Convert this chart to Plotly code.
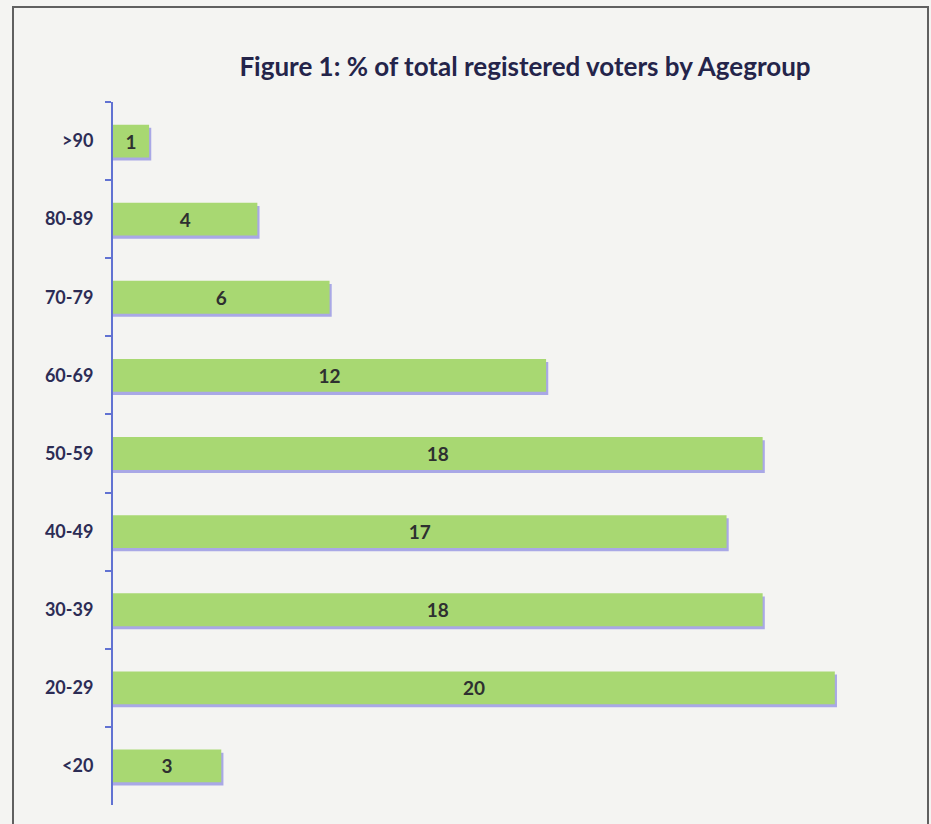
import plotly.graph_objects as go

age_groups = [">90", "80-89", "70-79", "60-69", "50-59", "40-49", "30-39", "20-29", "<20"]
pct_voters = [1, 4, 6, 12, 18, 17, 18, 20, 3]
title_text = "Figure 1: % of total registered voters by Agegroup"

BAR_W = 0.42
SHADOW = 0.04

fig = go.Figure()
# soft bluish drop shadow below/right of each bar
fig.add_trace(go.Bar(
    y=age_groups, x=[v + 0.06 for v in pct_voters], orientation="h",
    width=BAR_W, offset=-BAR_W / 2 + SHADOW,
    marker=dict(color="#a9a8e6", line=dict(width=0)),
    hoverinfo="skip", showlegend=False,
))
fig.add_trace(go.Bar(
    y=age_groups, x=pct_voters, orientation="h",
    width=BAR_W, offset=-BAR_W / 2,
    marker=dict(color="#a8d872", line=dict(width=0)),
    text=[str(v) for v in pct_voters], textposition="inside",
    insidetextanchor="middle", textangle=0,
    textfont=dict(family="Lato, Open Sans, sans-serif", size=19, color="#2e3030", weight="bold"),
    showlegend=False,
))

fig.update_layout(
    width=931, height=824,
    margin=dict(l=113, r=24, t=102, b=19),
    paper_bgcolor="#f4f4f2", plot_bgcolor="rgba(0,0,0,0)",
    barmode="overlay",
    title=dict(text="<b>" + title_text + "</b>", x=525 / 931, xanchor="center",
               y=1 - 67 / 824, yanchor="middle", xref="container", yref="container",
               font=dict(family="Lato, Open Sans, sans-serif", size=26, color="#24244a")),
    xaxis=dict(range=[0, 22], visible=False, showgrid=False, zeroline=False),
    yaxis=dict(autorange="reversed", showgrid=False, zeroline=False,
               showline=True, linecolor="#6172d2", linewidth=2,
               ticks="outside", tickson="boundaries", ticklen=6, tickcolor="#6172d2", tickwidth=2,
               ticklabelstandoff=14,
               tickfont=dict(family="Lato, Open Sans, sans-serif", size=18, color="#2c2c55", weight="bold")),
    shapes=[dict(type="rect", xref="paper", yref="paper",
                 x0=(13 - 113) / 794, x1=(928 - 113) / 794,
                 y0=-0.05, y1=(805 - 7) / 703,
                 line=dict(color="#606060", width=2), fillcolor="rgba(0,0,0,0)", layer="below")],
)

fig.write_html("out.html", config={"displayModeBar": False},
               post_script="document.body.style.margin='0';")
